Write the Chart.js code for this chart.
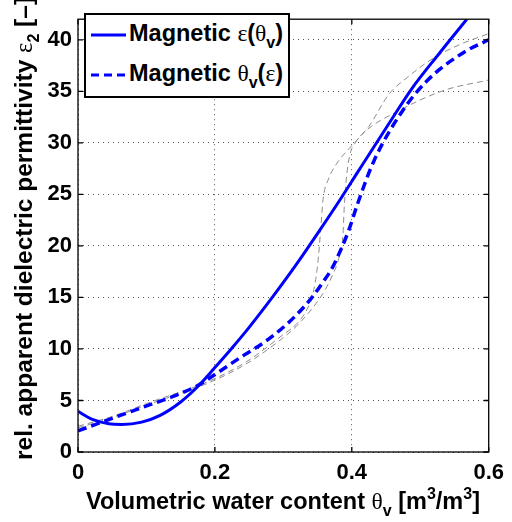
<!DOCTYPE html>
<html>
<head>
<meta charset="utf-8">
<script src="https://cdn.jsdelivr.net/npm/chart.js@4.4.0/dist/chart.umd.min.js"></script>
<style>
  html, body { margin: 0; padding: 0; background: #fff; }
  #wrap { position: relative; width: 512px; height: 522px; font-family: "Liberation Sans", Arial, sans-serif; font-weight: bold; color: #000; }
  #chart { position: absolute; left: 0; top: 0; }
  .greek { font-family: "Liberation Serif", "DejaVu Serif", serif; font-weight: normal; }
  .sub { font-size: 16px; position: relative; top: 7px; }
  .sup { font-size: 16px; position: relative; top: -10px; }
  #ytitle { position: absolute; left: -206px; top: 217px; width: 460px; height: 26px; line-height: 26px; font-size: 24.5px; text-align: center; transform: rotate(-90deg); white-space: nowrap; }
  #xtitle { position: absolute; left: 58px; top: 488px; width: 450px; height: 26px; line-height: 26px; font-size: 23.5px; text-align: center; white-space: nowrap; }
  #legend { position: absolute; left: 84px; top: 13px; width: 202px; height: 81px; border: 2px solid #000; background: #fff; font-size: 23.5px; }
  .row { position: absolute; left: 5px; height: 30px; line-height: 30px; white-space: nowrap; }
  .row svg { vertical-align: middle; margin-right: 3px; }
</style>
</head>
<body>
<div id="wrap">
  <canvas id="chart" width="512" height="522"></canvas>
  <div id="ytitle">rel. apparent dielectric permittivity <span class="greek">ε</span><span class="sub">2</span> [–]</div>
  <div id="xtitle">Volumetric water content <span class="greek">θ</span><span class="sub">v</span> [m<span class="sup">3</span>/m<span class="sup">3</span>]</div>
  <div id="legend">
    <div class="row" style="top:3px"><svg width="35" height="6"><line x1="0" y1="3" x2="35" y2="3" stroke="#0000ff" stroke-width="3"/></svg>Magnetic <span class="greek">ε</span>(<span class="greek">θ</span><span class="sub">v</span>)</div>
    <div class="row" style="top:43px"><svg width="35" height="6"><line x1="0" y1="3" x2="35" y2="3" stroke="#0000ff" stroke-width="3" stroke-dasharray="8,5"/></svg>Magnetic <span class="greek">θ</span><span class="sub">v</span>(<span class="greek">ε</span>)</div>
  </div>
</div>
<script>
// Magnetic eps(theta) fit
const thetaSolid = [0, 0.021, 0.045, 0.064, 0.093, 0.12, 0.15, 0.175, 0.2, 0.225, 0.25, 0.286, 0.319, 0.353, 0.384, 0.41, 0.4536, 0.487, 0.528, 0.568];
const epsSolid = [3.94, 3.16, 2.74, 2.68, 2.9, 3.55, 4.85, 6.35, 8.2, 10.1, 12.1, 15.2, 18.2, 21.5, 24.6, 27.3, 31.8, 35.2, 38.7, 42];

// Magnetic theta(eps) fit
const thetaDashed = [0, 0.045, 0.093, 0.141, 0.175, 0.204, 0.2425, 0.271, 0.305, 0.329, 0.343, 0.358, 0.37, 0.377, 0.396, 0.408, 0.432, 0.473, 0.511, 0.564, 0.6];
const epsDashed = [2.05, 3.15, 4.3, 5.45, 6.45, 7.7, 9.4, 10.6, 12.4, 14.0, 15.1, 16.5, 17.7, 18.6, 21.6, 24.0, 28.2, 33.0, 36.1, 38.8, 40.0];

// grey bounds
const thetaGrey1 = [0, 0.05, 0.1, 0.194, 0.247, 0.3, 0.319, 0.335, 0.343, 0.35, 0.355, 0.358, 0.366, 0.377, 0.401, 0.425, 0.454, 0.482, 0.521, 0.56, 0.6];
const epsGrey1 = [2.5, 3.45, 4.7, 6.95, 8.8, 11.4, 12.4, 13.9, 15.3, 18.1, 22, 24.5, 26.5, 27.9, 29.8, 31.6, 34.7, 36.4, 38.3, 39.6, 40.6];
const thetaGrey2 = [0, 0.05, 0.1, 0.194, 0.247, 0.3, 0.319, 0.338, 0.358, 0.372, 0.381, 0.387, 0.389, 0.392, 0.397, 0.405, 0.4175, 0.468, 0.535, 0.6];
const epsGrey2 = [2.35, 3.35, 4.55, 6.8, 8.6, 11.1, 12.2, 13.6, 15.4, 17.2, 18.8, 21, 23.8, 26.5, 28.8, 30.0, 31.0, 33.1, 35.1, 36.1];

const xTicks = [0, 0.2, 0.4, 0.6];
const yTicks = [0, 5, 10, 15, 20, 25, 30, 35, 40];

const toPoints = (xs, ys) => xs.map((x, i) => ({ x: x, y: ys[i] }));
const tickFont = { family: '"Liberation Sans", Arial, sans-serif', size: 22, weight: 'bold' };

// box round the plot with ticks pointing inward
const framePlugin = {
    id: 'frame',
    afterDraw(chart) {
        const { ctx, chartArea: a, scales } = chart;
        ctx.save();
        ctx.strokeStyle = '#000';
        ctx.lineWidth = 1.3;
        ctx.strokeRect(a.left, a.top, a.right - a.left, a.bottom - a.top);
        ctx.beginPath();
        xTicks.forEach(v => {
            const px = scales.x.getPixelForValue(v);
            ctx.moveTo(px, a.bottom); ctx.lineTo(px, a.bottom - 5);
            ctx.moveTo(px, a.top); ctx.lineTo(px, a.top + 5);
        });
        yTicks.forEach(v => {
            const py = scales.y.getPixelForValue(v);
            ctx.moveTo(a.left, py); ctx.lineTo(a.left + 5, py);
            ctx.moveTo(a.right, py); ctx.lineTo(a.right - 5, py);
        });
        ctx.stroke();
        ctx.restore();
    }
};

new Chart(document.getElementById('chart'), {
    type: 'scatter',
    data: {
        datasets: [
            { data: toPoints(thetaSolid, epsSolid), borderColor: '#0000ff', borderWidth: 3, showLine: true, pointRadius: 0, cubicInterpolationMode: 'monotone' },
            { data: toPoints(thetaDashed, epsDashed), borderColor: '#0000ff', borderWidth: 3.5, borderDash: [9, 5], showLine: true, pointRadius: 0, cubicInterpolationMode: 'monotone' },
            { data: toPoints(thetaGrey1, epsGrey1), borderColor: '#8c8c8c', borderWidth: 1, borderDash: [6, 4], showLine: true, pointRadius: 0, cubicInterpolationMode: 'monotone' },
            { data: toPoints(thetaGrey2, epsGrey2), borderColor: '#8c8c8c', borderWidth: 1, borderDash: [6, 4], showLine: true, pointRadius: 0, cubicInterpolationMode: 'monotone' }
        ]
    },
    options: {
        responsive: false,
        animation: false,
        events: [],
        layout: { padding: { top: 7, right: 17, left: 0, bottom: 0 } },
        plugins: { legend: { display: false }, tooltip: { enabled: false } },
        scales: {
            x: {
                type: 'linear', min: 0, max: 0.6,
                afterBuildTicks: s => { s.ticks = xTicks.map(v => ({ value: v })); },
                afterFit: s => { s.height = 70; },
                ticks: { font: tickFont, color: '#000', padding: 8, maxRotation: 0, callback: v => v === 0 ? '0' : v.toFixed(1) },
                grid: { color: '#555', lineWidth: 1, drawTicks: false },
                border: { display: false, dash: [1, 4] }
            },
            y: {
                type: 'linear', min: 0, max: 42,
                afterBuildTicks: s => { s.ticks = yTicks.map(v => ({ value: v })); },
                afterFit: s => { s.width = 78; },
                ticks: { font: tickFont, color: '#000', padding: 6 },
                grid: { color: '#555', lineWidth: 1, drawTicks: false },
                border: { display: false, dash: [1, 4] }
            }
        }
    },
    plugins: [framePlugin]
});
</script>
</body>
</html>
